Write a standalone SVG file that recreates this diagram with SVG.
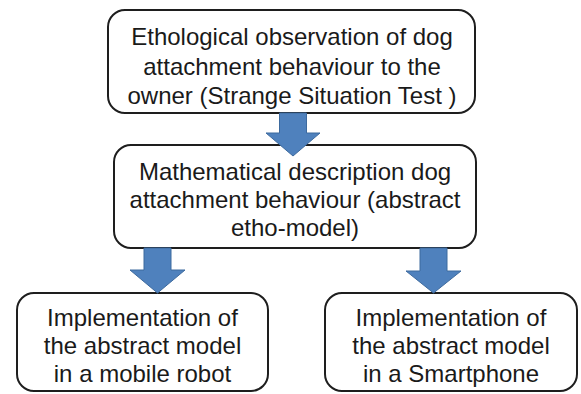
<svg xmlns="http://www.w3.org/2000/svg" width="581" height="394" viewBox="0 0 581 394">
<style>
.box{fill:#fff;stroke:#1e1e1e;stroke-width:2}
.t{font-family:"Liberation Sans",Arial,sans-serif;font-size:24px;fill:#1a1a1a;text-anchor:middle}
.arr{fill:#4f81bd;stroke:#3d6a9e;stroke-width:1}
</style>
<rect width="581" height="394" fill="#fff"/>
<g id="n1">
<rect class="box" x="108" y="10" width="367" height="103" rx="17"/>
<text class="t" x="292" y="45">Ethological observation of dog</text>
<text class="t" x="292" y="75">attachment behaviour to the</text>
<text class="t" x="292" y="104">owner (Strange Situation Test )</text>
</g>
<g id="n2">
<rect class="box" x="114" y="145" width="362" height="103" rx="17"/>
<text class="t" x="295" y="180">Mathematical description dog</text>
<text class="t" x="295" y="208">attachment behaviour (abstract</text>
<text class="t" x="295" y="236">etho-model)</text>
</g>
<g id="n3">
<rect class="box" x="17" y="293" width="251" height="98" rx="17"/>
<text class="t" x="142.5" y="326">Implementation of</text>
<text class="t" x="142.5" y="354">the abstract model</text>
<text class="t" x="142.5" y="382">in a mobile robot</text>
</g>
<g id="n4">
<rect class="box" x="325" y="293" width="252" height="98" rx="17"/>
<text class="t" x="451" y="326">Implementation of</text>
<text class="t" x="451" y="354">the abstract model</text>
<text class="t" x="451" y="382">in a Smartphone</text>
</g>
<g id="connectors">
<path class="arr" d="M279.5 113 H306.5 V133 H320 L293 156 L266 133 H279.5 Z"/>
<path class="arr" d="M144 248 H171 V270 H185 L157.5 293 L130 270 H144 Z"/>
<path class="arr" d="M420 248 H447 V271 H461 L433.5 293 L406 271 H420 Z"/>
</g>
</svg>
